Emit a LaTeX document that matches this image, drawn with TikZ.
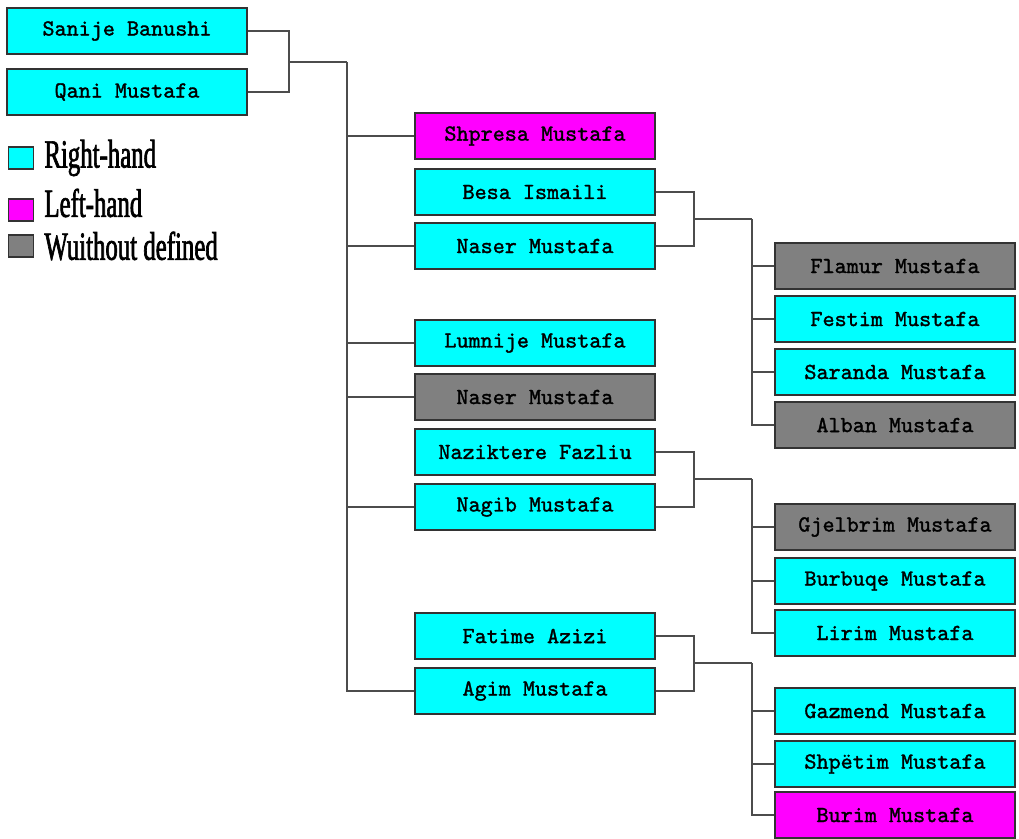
\documentclass[tikz,border=0pt]{standalone}
\usepackage{fontspec}
\newfontfamily\boxfont[Extension=.otf,FakeBold=1.4]{lmmono10-regular}
\newfontfamily\keyfont[FakeStretch=0.62,FakeBold=1.6]{Liberation Serif}
\definecolor{rhcyan}{RGB}{0,255,255}
\definecolor{lhmagenta}{RGB}{255,0,255}
\definecolor{nogray}{RGB}{128,128,128}
\tikzstyle{person}=[draw=black!80, line width=1.5pt,
                    minimum width=240pt, minimum height=46pt,
                    inner sep=0pt, font=\boxfont\fontsize{23}{23}\selectfont]
\tikzstyle{righth}=[person, fill=rhcyan]
\tikzstyle{lefth}=[person, fill=lhmagenta]
\tikzstyle{undef}=[person, fill=nogray]
\tikzstyle{edge}=[draw=black!70, line width=1.5pt]
\tikzstyle{keybox}=[draw=black!80, line width=1.5pt,
                    minimum width=25pt, minimum height=22pt, inner sep=0pt]
\tikzstyle{keytext}=[inner sep=0pt, label distance=10pt,
                     font=\keyfont\fontsize{40}{40}\selectfont]

\begin{document}
\begin{tikzpicture}[x=1pt, y=-1pt]
     \useasboundingbox (0,0) rectangle (1019,838);
     % parents
     \node (sanije) at (127,31)  [righth]{Sanije Banushi};
     \node (qani)   at (127,92)  [righth]{Qani Mustafa};

     % key
     \node (kright) at (21,158) [keybox, fill=rhcyan,
         label={[keytext]0:Right-hand}]{};
     \node (kleft)  at (21,210) [keybox, fill=lhmagenta,
         label={[keytext, yshift=7pt]0:Left-hand}]{};
     \node (kundef) at (21,246) [keybox, fill=nogray,
         label={[keytext]0:Wuithout defined}]{};

     % children
     \node (shpresa)   at (535,136) [lefth]{Shpresa Mustafa};
     \node (besa)      at (535,192) [righth]{Besa Ismaili};
     \node (naser)     at (535,246) [righth]{Naser Mustafa};
     \node (lumnije)   at (535,343) [righth]{Lumnije Mustafa};
     \node (naserb)    at (535,397) [undef]{Naser Mustafa};
     \node (naziktere) at (535,452) [righth]{Naziktere Fazliu};
     \node (nagib)     at (535,507) [righth]{Nagib Mustafa};
     \node (fatime)    at (535,636) [righth]{Fatime Azizi};
     \node (agim)      at (535,691) [righth]{Agim Mustafa};

     % grandchildren
     \node (flamur)   at (895,266) [undef]{Flamur Mustafa};
     \node (festim)   at (895,319) [righth]{Festim Mustafa};
     \node (saranda)  at (895,372) [righth]{Saranda Mustafa};
     \node (alban)    at (895,425) [undef]{Alban Mustafa};
     \node (gjelbrim) at (895,527) [undef]{Gjelbrim Mustafa};
     \node (burbuqe)  at (895,581) [righth]{Burbuqe Mustafa};
     \node (lirim)    at (895,633) [righth]{Lirim Mustafa};
     \node (gazmend)  at (895,711) [righth]{Gazmend Mustafa};
     \node (shpetim)  at (895,764) [righth]{Shpëtim Mustafa};
     \node (burim)    at (895,815) [lefth]{Burim Mustafa};

     % couples
     \coordinate (q0) at (289,62);  \coordinate (r0) at (347,62);
     \coordinate (q1) at (694,219); \coordinate (r1) at (752,219);
     \coordinate (q2) at (694,479); \coordinate (r2) at (752,479);
     \coordinate (q3) at (694,663); \coordinate (r3) at (752,663);

     \foreach \u/\q in {sanije/q0,qani/q0,besa/q1,naser/q1,
                        naziktere/q2,nagib/q2,fatime/q3,agim/q3}
       \draw [edge] (\u.east) -| (\q);
     \foreach \q/\r in {q0/r0,q1/r1,q2/r2,q3/r3}
       \draw [edge] (\q) -- (\r);

     \foreach \r/\v in {r0/shpresa,r0/naser,r0/lumnije,r0/naserb,r0/nagib,r0/agim,
                        r1/flamur,r1/festim,r1/saranda,r1/alban,
                        r2/gjelbrim,r2/burbuqe,r2/lirim,
                        r3/gazmend,r3/shpetim,r3/burim}
       \draw [edge] (\r) |- (\v.west);
\end{tikzpicture}
\end{document}
